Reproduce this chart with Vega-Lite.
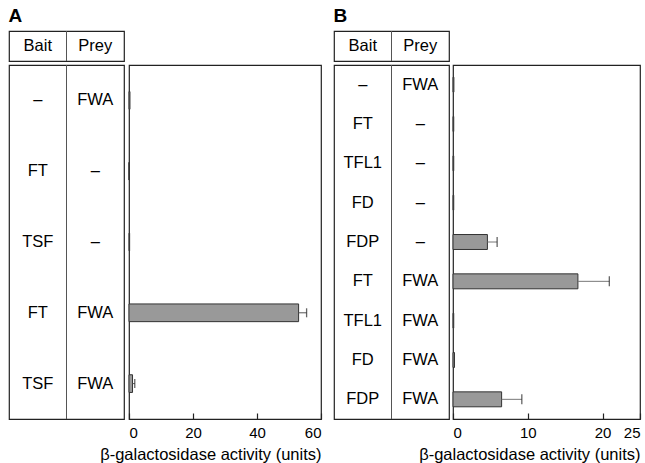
{
  "$schema": "https://vega.github.io/schema/vega-lite/v6.json",
  "padding": {"left": 8, "top": 6, "right": 0, "bottom": 0},
  "background": "white",
  "datasets": {
    "a": [
      {"row": 1, "bait": "–", "prey": "FWA", "value": 0.3, "hi": 0},
      {"row": 2, "bait": "FT", "prey": "–", "value": 0, "hi": 0},
      {"row": 3, "bait": "TSF", "prey": "–", "value": 0.2, "hi": 0},
      {"row": 4, "bait": "FT", "prey": "FWA", "value": 53, "hi": 55.5},
      {"row": 5, "bait": "TSF", "prey": "FWA", "value": 1.1, "hi": 1.8}
    ],
    "b": [
      {"row": 1, "bait": "–", "prey": "FWA", "value": 0.12, "hi": 0},
      {"row": 2, "bait": "FT", "prey": "–", "value": 0.1, "hi": 0},
      {"row": 3, "bait": "TFL1", "prey": "–", "value": 0.1, "hi": 0},
      {"row": 4, "bait": "FD", "prey": "–", "value": 0.1, "hi": 0},
      {"row": 5, "bait": "FDP", "prey": "–", "value": 4.6, "hi": 5.9},
      {"row": 6, "bait": "FT", "prey": "FWA", "value": 16.7, "hi": 20.9},
      {"row": 7, "bait": "TFL1", "prey": "FWA", "value": 0.1, "hi": 0},
      {"row": 8, "bait": "FD", "prey": "FWA", "value": 0.2, "hi": 0},
      {"row": 9, "bait": "FDP", "prey": "FWA", "value": 6.5, "hi": 9.2}
    ],
    "hdr": [{"col": "bait", "label": "Bait"}, {"col": "prey", "label": "Prey"}],
    "div": [{"col": "prey"}]
  },
  "config": {
    "font": "Liberation Sans",
    "view": {"stroke": "#222", "strokeWidth": 1.2},
    "axis": {
      "domain": false, "grid": false, "tickSize": -6, "tickColor": "#222", "tickWidth": 1.2,
      "labelPadding": 12, "labelFontSize": 15, "labelColor": "black",
      "titleFontSize": 16.5, "titleFontWeight": "normal", "titleColor": "black",
      "titleAnchor": "end", "titlePadding": 6
    },
    "title": {"fontSize": 19, "fontWeight": "bold", "anchor": "start", "offset": 4, "color": "black"}
  },
  "spacing": 10,
  "hconcat": [
    {
      "title": "A",
      "spacing": 0,
      "vconcat": [
        {
          "width": 115, "height": 30,
          "data": {"name": "hdr"},
          "layer": [
            {
              "mark": {"type": "text", "fontSize": 16.5, "color": "black"},
              "encoding": {
                "x": {"field": "col", "type": "nominal", "scale": {"type": "band", "paddingInner": 0, "paddingOuter": 0, "domain": ["bait", "prey"]}, "axis": null},
                "text": {"field": "label"}
              }
            },
            {
              "data": {"name": "div"},
              "mark": {"type": "rule", "color": "#555", "strokeWidth": 1},
              "encoding": {"x": {"field": "col", "type": "nominal", "bandPosition": 0}}
            }
          ]
        },
        {
          "spacing": 5,
          "bounds": "flush",
          "hconcat": [
            {
              "width": 115, "height": 354,
              "data": {"name": "a"},
              "layer": [
                {
                  "transform": [{"fold": ["bait", "prey"], "as": ["col", "label"]}],
                  "mark": {"type": "text", "fontSize": 16.5, "color": "black"},
                  "encoding": {
                    "x": {"field": "col", "type": "nominal", "scale": {"type": "band", "paddingInner": 0, "paddingOuter": 0, "domain": ["bait", "prey"]}, "axis": null},
                    "y": {"field": "row", "type": "ordinal", "scale": {"type": "band", "paddingInner": 0, "paddingOuter": 0}, "axis": null},
                    "text": {"field": "label"}
                  }
                },
                {
                  "data": {"name": "div"},
                  "mark": {"type": "rule", "color": "#555", "strokeWidth": 1},
                  "encoding": {"x": {"field": "col", "type": "nominal", "bandPosition": 0}}
                }
              ]
            },
            {
              "width": 192, "height": 354,
              "data": {"name": "a"},
              "encoding": {"y": {"field": "row", "type": "ordinal", "axis": null, "scale": {"paddingInner": 0.75, "paddingOuter": 0.375}}},
              "layer": [
                {
                  "mark": {"type": "bar", "fill": "#999999", "stroke": "#333", "strokeWidth": 1},
                  "encoding": {"x": {"field": "value", "type": "quantitative", "scale": {"domain": [0, 60], "nice": false}, "axis": {"values": [0, 20, 40, 60], "title": "β-galactosidase activity (units)"}}}
                },
                {
                  "transform": [{"filter": "datum.hi > 0"}],
                  "mark": {"type": "rule", "color": "#555", "strokeWidth": 1},
                  "encoding": {"x": {"field": "value", "type": "quantitative"}, "x2": {"field": "hi"}}
                },
                {
                  "transform": [{"filter": "datum.hi > 0"}],
                  "mark": {"type": "tick", "color": "#222", "thickness": 1.3, "size": 9},
                  "encoding": {"x": {"field": "hi", "type": "quantitative"}}
                }
              ]
            }
          ]
        }
      ]
    },
    {
      "title": "B",
      "spacing": 0,
      "vconcat": [
        {
          "width": 115, "height": 30,
          "data": {"name": "hdr"},
          "layer": [
            {
              "mark": {"type": "text", "fontSize": 16.5, "color": "black"},
              "encoding": {
                "x": {"field": "col", "type": "nominal", "scale": {"type": "band", "paddingInner": 0, "paddingOuter": 0, "domain": ["bait", "prey"]}, "axis": null},
                "text": {"field": "label"}
              }
            },
            {
              "data": {"name": "div"},
              "mark": {"type": "rule", "color": "#555", "strokeWidth": 1},
              "encoding": {"x": {"field": "col", "type": "nominal", "bandPosition": 0}}
            }
          ]
        },
        {
          "spacing": 4,
          "bounds": "flush",
          "hconcat": [
            {
              "width": 115, "height": 354,
              "data": {"name": "b"},
              "layer": [
                {
                  "transform": [{"fold": ["bait", "prey"], "as": ["col", "label"]}],
                  "mark": {"type": "text", "fontSize": 16.5, "color": "black"},
                  "encoding": {
                    "x": {"field": "col", "type": "nominal", "scale": {"type": "band", "paddingInner": 0, "paddingOuter": 0, "domain": ["bait", "prey"]}, "axis": null},
                    "y": {"field": "row", "type": "ordinal", "scale": {"type": "band", "paddingInner": 0, "paddingOuter": 0}, "axis": null},
                    "text": {"field": "label"}
                  }
                },
                {
                  "data": {"name": "div"},
                  "mark": {"type": "rule", "color": "#555", "strokeWidth": 1},
                  "encoding": {"x": {"field": "col", "type": "nominal", "bandPosition": 0}}
                }
              ]
            },
            {
              "width": 187, "height": 354,
              "data": {"name": "b"},
              "encoding": {"y": {"field": "row", "type": "ordinal", "axis": null, "scale": {"paddingInner": 0.62, "paddingOuter": 0.31}}},
              "layer": [
                {
                  "mark": {"type": "bar", "fill": "#999999", "stroke": "#333", "strokeWidth": 1},
                  "encoding": {"x": {"field": "value", "type": "quantitative", "scale": {"domain": [0, 25], "nice": false}, "axis": {"values": [0, 10, 20, 25], "title": "β-galactosidase activity (units)"}}}
                },
                {
                  "transform": [{"filter": "datum.hi > 0"}],
                  "mark": {"type": "rule", "color": "#777", "strokeWidth": 1},
                  "encoding": {"x": {"field": "value", "type": "quantitative"}, "x2": {"field": "hi"}}
                },
                {
                  "transform": [{"filter": "datum.hi > 0"}],
                  "mark": {"type": "tick", "color": "#222", "thickness": 1.3, "size": 10},
                  "encoding": {"x": {"field": "hi", "type": "quantitative"}}
                }
              ]
            }
          ]
        }
      ]
    }
  ]
}
